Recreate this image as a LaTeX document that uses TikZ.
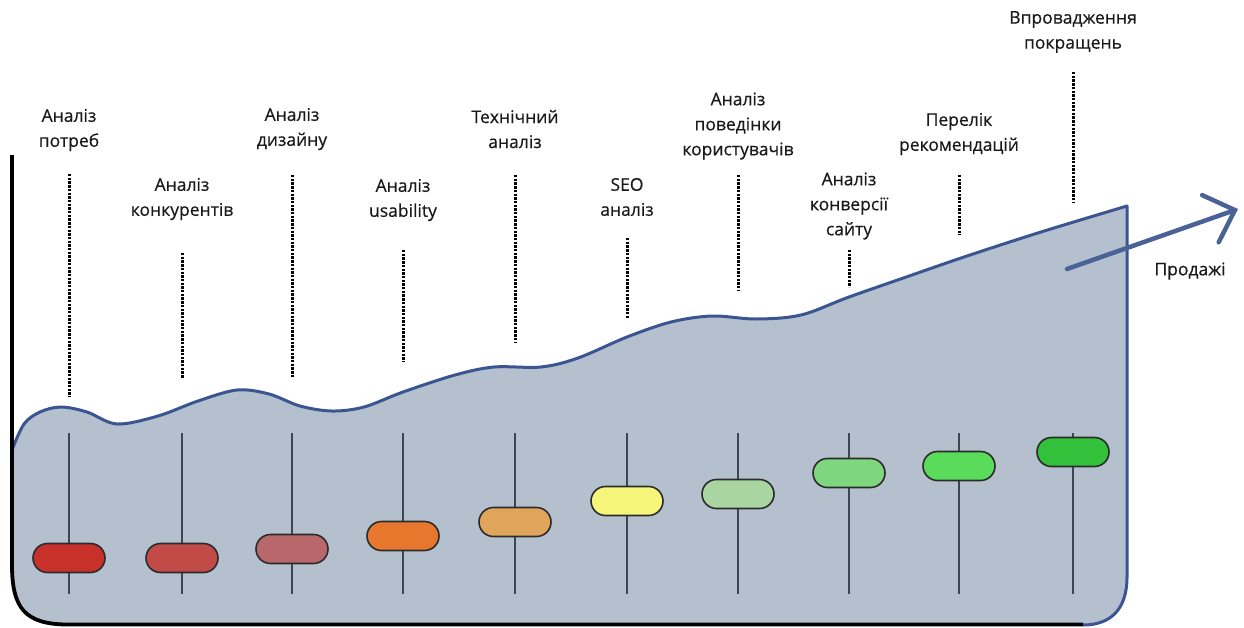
\documentclass[tikz,border=0pt]{standalone}
\usepackage{fontspec}
\setmainfont{Open Sans}[UprightFeatures={FakeBold=0.45}]
\usetikzlibrary{arrows.meta}
\definecolor{areafill}{HTML}{B4C0CE}
\definecolor{arealine}{HTML}{3A5592}
\definecolor{arrowcol}{HTML}{4A6296}
\definecolor{trackcol}{HTML}{3C4550}
\definecolor{knobline}{HTML}{2B2B2B}
\definecolor{kA}{HTML}{C8302A}
\definecolor{kB}{HTML}{C24B47}
\definecolor{kC}{HTML}{B8676A}
\definecolor{kD}{HTML}{E8772E}
\definecolor{kE}{HTML}{E0A55A}
\definecolor{kF}{HTML}{F5F57A}
\definecolor{kG}{HTML}{A8D5A0}
\definecolor{kH}{HTML}{7ED67E}
\definecolor{kI}{HTML}{5ADB5A}
\definecolor{kJ}{HTML}{33C03A}
\tikzset{
  lbl/.style={align=center,font=\fontsize{17.5}{25}\selectfont,text=black!90,inner sep=0pt},
  knob/.style={draw=knobline,line width=1.6pt,minimum width=72pt,minimum height=29pt,rounded corners=14.5pt,inner sep=0pt},
  track/.style={draw=trackcol,line width=2pt},
  dots/.style={draw=black,line width=3pt,dash pattern=on 2.4pt off 1.3pt},
}
\begin{document}
\begin{tikzpicture}[x=1pt,y=-1pt]
\useasboundingbox (0,0) rectangle (1244,627);
% area
\path[fill=areafill]
  plot[smooth,tension=0.55] coordinates {(12,450) (24,424) (40,412) (61,407) (87,412) (117,424) (158,416) (198,401) (237,390) (269,394) (300,406) (332,411) (364,407) (403,392) (455,375) (494,367) (541,367) (578,358) (627,337) (671,322) (712,316) (756,319) (801,315) (849,297) (912,275) (967,256) (1041,232) (1127,206)}
  -- (1127,577) .. controls (1127,610) and (1110,625) .. (1083,625) -- (70,625) .. controls (25,625) and (12,600) .. (12,560) -- cycle;
% wave outline
\draw[arealine,line width=3pt,line join=round]
  plot[smooth,tension=0.55] coordinates {(12,450) (24,424) (40,412) (61,407) (87,412) (117,424) (158,416) (198,401) (237,390) (269,394) (300,406) (332,411) (364,407) (403,392) (455,375) (494,367) (541,367) (578,358) (627,337) (671,322) (712,316) (756,319) (801,315) (849,297) (912,275) (967,256) (1041,232) (1127,206)}
  -- (1127,577) .. controls (1127,610) and (1110,625) .. (1083,625);
% axis
\coordinate (axtop) at (12,155);
\coordinate (axend) at (1083,624.5);
\draw[black,line width=3.8pt] (axtop) -- (12,565) .. controls (12,608) and (25,624.5) .. (68,624.5) -- (axend);
% sliders
\foreach \i/\x/\ky/\c in {1/69/558/kA,2/182/558/kB,3/292/549/kC,4/403/536/kD,5/515/522/kE,6/627/501/kF,7/738/494/kG,8/849/473/kH,9/959/466/kI,10/1073/452/kJ}{
  \coordinate (tt\i) at (\x,433);
  \coordinate (tb\i) at (\x,594);
  \draw[track] (tt\i) -- (tb\i);
  \node[knob,fill=\c] (k\i) at (\x,\ky) {};
}
% dotted leaders
\foreach \i/\x/\ya/\yb in {1/69/174/397,2/182/253/378,3/292/175/378,4/403/250/362,5/515/175/343,6/627/238/318,7/738/175/290,8/849/250/287,9/959/175/235,10/1073/72/203}{
  \coordinate (da\i) at (\x,\ya);
  \coordinate (db\i) at (\x,\yb);
  \draw[dots] (da\i) -- (db\i);
}
% labels
\node[lbl] (l1) at (69,130) {Аналіз\\потреб};
\node[lbl] (l2) at (182,199) {Аналіз\\конкурентів};
\node[lbl] (l3) at (292,129) {Аналіз\\дизайну};
\node[lbl] (l4) at (403,200) {Аналіз\\usability};
\node[lbl] (l5) at (515,129) {Технічний\\аналіз};
\node[lbl] (l6) at (627,197) {SEO\\аналіз};
\node[lbl] (l7) at (738,126) {Аналіз\\поведінки\\користувачів};
\node[lbl] (l8) at (849,206) {Аналіз\\конверсії\\сайту};
\node[lbl] (l9) at (959,134) {Перелік\\рекомендацій};
\node[lbl] (l10) at (1073,32) {Впровадження\\покращень};
% sales arrow
\coordinate (sa) at (1067,269);
\coordinate (sb) at (1238,209);
\draw[arrowcol,line width=4.5pt,line cap=round,-{Straight Barb[length=26pt,width=50pt,line cap=round]}] (sa) -- (sb);
\node[lbl] (sales) at (1190,271) {Продажі};
\end{tikzpicture}
\end{document}
